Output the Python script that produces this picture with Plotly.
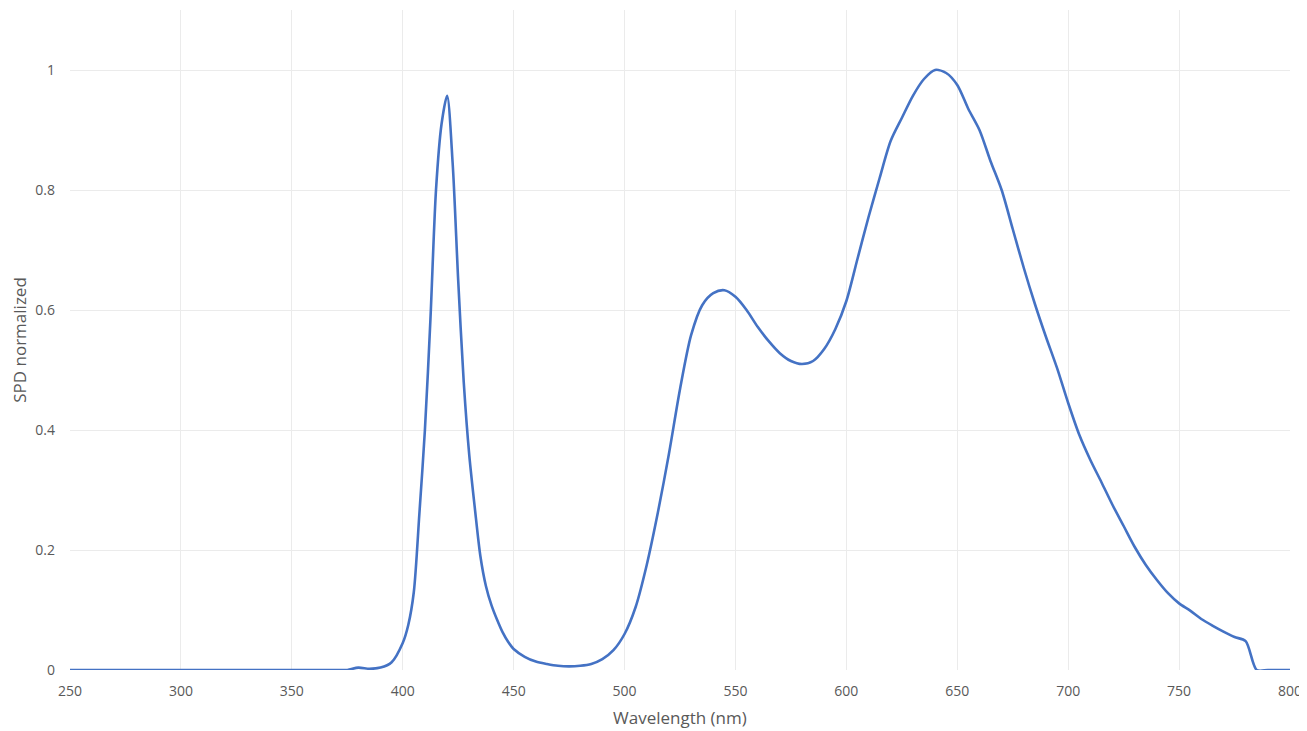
import plotly.graph_objects as go

wavelength = (
    list(range(250, 400, 5))
    + [400, 402.5, 405, 407.5, 410, 412.5, 415, 417.5, 420, 422.5, 425, 427.5,
       430, 432.5, 435, 437.5, 440, 442.5, 445, 447.5]
    + list(range(450, 805, 5))
)
spd = (
    [0] * 26                                  # 250-375
    + [0.004, 0.002, 0.004, 0.013]            # 380-395
    + [0.045, 0.075, 0.13, 0.26, 0.40, 0.585, 0.80, 0.91, 0.957, 0.845,
       0.65, 0.48, 0.358, 0.27, 0.19, 0.14, 0.108, 0.084, 0.063, 0.047]  # 400-447.5
    + [0.035, 0.022, 0.014, 0.01, 0.007,      # 450-470
       0.006, 0.007, 0.01, 0.018, 0.033,      # 475-495
       0.06, 0.105, 0.175, 0.262, 0.36,       # 500-520
       0.468, 0.558, 0.608, 0.628, 0.633,     # 525-545
       0.622, 0.60, 0.572, 0.548, 0.528,      # 550-570
       0.515, 0.51, 0.515, 0.535, 0.568,      # 575-595
       0.615, 0.685, 0.755, 0.82, 0.882,      # 600-620
       0.92, 0.957, 0.985, 1.0, 0.995,        # 625-645
       0.975, 0.935, 0.90, 0.848, 0.80,       # 650-670
       0.735, 0.67, 0.61, 0.555, 0.503,       # 675-695
       0.445, 0.392, 0.35, 0.313, 0.275,      # 700-720
       0.24, 0.205, 0.175, 0.15, 0.128,       # 725-745
       0.111, 0.099, 0.085, 0.074, 0.064,     # 750-770
       0.055, 0.048, 0.0, 0.0, 0.0, 0.0]      # 775-800
)

x_ticks = list(range(250, 801, 50))
y_ticks = [0, 0.2, 0.4, 0.6, 0.8, 1]
y_tick_labels = ["0", "0.2", "0.4", "0.6", "0.8", "1"]

fig = go.Figure()
fig.add_trace(go.Scatter(
    x=wavelength, y=spd, mode="lines",
    line=dict(color="#4472C4", width=2.6, shape="spline", smoothing=0.8),
    showlegend=False,
))

font_family = "Open Sans, Noto Sans, sans-serif"
plot_h = 723 - 2 - 61
fig.update_layout(
    width=1299, height=723,
    margin=dict(l=62, r=17, t=2, b=61),
    paper_bgcolor="white", plot_bgcolor="white",
    font=dict(family=font_family, color="#595959", size=14),
    xaxis=dict(
        range=[250, 800], tickvals=x_ticks,
        showgrid=True, gridcolor="#EBEBEB", gridwidth=1,
        zeroline=False, showline=False, ticks="",
        ticklabelstandoff=11, automargin=False,
    ),
    yaxis=dict(
        range=[0, 1.1], tickvals=y_ticks, ticktext=y_tick_labels,
        showgrid=True, gridcolor="#EBEBEB", gridwidth=1,
        zeroline=False, showline=False, ticks="",
        ticklabelstandoff=14, automargin=False,
        title=dict(text="SPD normalized", font=dict(size=17, color="#595959"), standoff=8),
    ),
    annotations=[dict(
        text="Wavelength (nm)", xref="paper", yref="paper",
        x=0.5, y=-47 / plot_h, xanchor="center", yanchor="middle",
        showarrow=False, font=dict(size=17, color="#595959"),
    )],
)

fig.write_html("out.html")
